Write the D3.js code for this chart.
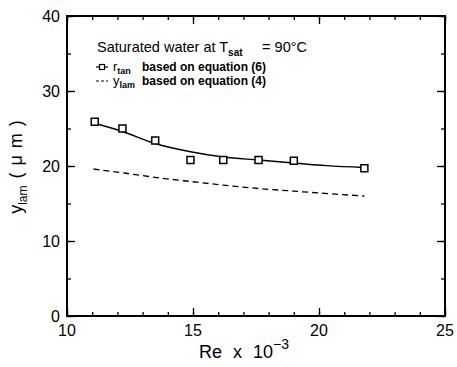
<!DOCTYPE html>
<html>
<head>
<meta charset="utf-8">
<script src="https://cdn.jsdelivr.net/npm/d3@7"></script>
<style>
  html, body { margin: 0; padding: 0; background: #fff; }
  svg { display: block; font-family: "Liberation Sans", Arial, sans-serif; }
</style>
</head>
<body>
<svg id="chart" width="457" height="367"></svg>
<script>
// Measured points: r_tan from equation (6)
const rtanRe  = [11.1, 12.2, 13.5, 14.9, 16.2, 17.6, 19.0, 21.8];
const rtanVal = [25.9, 25.0, 23.4, 20.8, 20.8, 20.8, 20.7, 19.7];

// Smooth fit through the r_tan points
const fitRe  = [11.1, 12.2, 13.5, 14.9, 16.2, 17.6, 19.0, 20.3, 21.8];
const fitVal = [25.7, 24.6, 23.0, 21.9, 21.2, 20.8, 20.4, 20.05, 19.8];

// y_lam from equation (4)
const ylamRe  = [11.05, 12.4, 13.7, 15.0, 16.2, 17.6, 19.0, 20.4, 21.8];
const ylamVal = [19.6, 19.0, 18.4, 17.9, 17.45, 17.0, 16.65, 16.3, 16.0];

const xMajorTicks = [10, 15, 20, 25];
const xMinorTicks = d3.range(10, 25.01, 1);
const yMajorTicks = [0, 10, 20, 30, 40];
const yMinorTicks = d3.range(0, 40.01, 5);

const svg = d3.select("#chart");
const plotLeft = 67, plotRight = 445, plotTop = 16, plotBottom = 316;

const x = d3.scaleLinear().domain([10, 25]).range([plotLeft, plotRight]);
const y = d3.scaleLinear().domain([0, 40]).range([plotBottom, plotTop]);

// Inward ticks on all four sides
function tickAxis(axisFn, scale, ticks, len) {
  return axisFn(scale).tickValues(ticks).tickSize(len).tickSizeOuter(0).tickFormat(() => "");
}

const sides = [
  [d3.axisTop, x, `translate(0,${plotBottom})`],
  [d3.axisBottom, x, `translate(0,${plotTop})`],
];
sides.forEach(([fn, sc, tr]) => {
  svg.append("g").attr("transform", tr).call(tickAxis(fn, sc, xMinorTicks, 4));
  svg.append("g").attr("transform", tr).call(tickAxis(fn, sc, xMajorTicks, 8));
});
const ySides = [
  [d3.axisRight, y, `translate(${plotLeft},0)`],
  [d3.axisLeft, y, `translate(${plotRight},0)`],
];
ySides.forEach(([fn, sc, tr]) => {
  svg.append("g").attr("transform", tr).call(tickAxis(fn, sc, yMinorTicks, 4));
  svg.append("g").attr("transform", tr).call(tickAxis(fn, sc, yMajorTicks, 8));
});

svg.selectAll(".domain").remove();
svg.selectAll(".tick line").attr("stroke", "#000").attr("stroke-width", 1.3);
svg.selectAll(".tick text").remove();

// frame
svg.append("rect")
  .attr("x", plotLeft).attr("y", plotTop)
  .attr("width", plotRight - plotLeft).attr("height", plotBottom - plotTop)
  .attr("fill", "none").attr("stroke", "#000").attr("stroke-width", 2);

// tick labels
svg.append("g").selectAll("text").data(yMajorTicks).join("text")
  .attr("x", plotLeft - 7).attr("y", d => y(d) + 6)
  .attr("text-anchor", "end").attr("font-size", 16)
  .text(d => d);
svg.append("g").selectAll("text").data(xMajorTicks).join("text")
  .attr("x", d => x(d)).attr("y", plotBottom + 20)
  .attr("text-anchor", "middle").attr("font-size", 16)
  .text(d => d);

// axis titles
const xt = svg.append("text")
  .attr("x", 199).attr("y", 358).attr("font-size", 18)
  .attr("word-spacing", 6);
xt.append("tspan").text("Re x 10");
xt.append("tspan").attr("dy", -9).attr("font-size", 14).text("−3");

const yt = svg.append("text")
  .attr("transform", "translate(22,167) rotate(-90)")
  .attr("text-anchor", "middle").attr("font-size", 18);
yt.append("tspan").text("y");
yt.append("tspan").attr("dy", 5).attr("font-size", 12).text("lam");
yt.append("tspan").attr("dy", -5).attr("word-spacing", 2).text(" ( μ m )");

// curves
const line = d3.line().x(d => x(d[0])).y(d => y(d[1])).curve(d3.curveMonotoneX);
svg.append("path")
  .attr("d", line(d3.zip(fitRe, fitVal)))
  .attr("fill", "none").attr("stroke", "#000").attr("stroke-width", 1.4);
svg.append("path")
  .attr("d", line(d3.zip(ylamRe, ylamVal)))
  .attr("fill", "none").attr("stroke", "#000").attr("stroke-width", 1.3)
  .attr("stroke-dasharray", "6,4");

// square markers
const sq = 7;
svg.append("g").selectAll("rect").data(d3.zip(rtanRe, rtanVal)).join("rect")
  .attr("x", d => x(d[0]) - sq / 2).attr("y", d => y(d[1]) - sq / 2)
  .attr("width", sq).attr("height", sq)
  .attr("fill", "#fff").attr("stroke", "#000").attr("stroke-width", 1.5);

// legend
const title = svg.append("text").attr("x", 97).attr("y", 52).attr("font-size", 14.5);
title.append("tspan").text("Saturated water at T");
title.append("tspan").attr("dy", 4).attr("font-size", 10).attr("font-weight", "bold").text("sat");
svg.append("text").attr("x", 307).attr("y", 52).attr("font-size", 14.5)
  .attr("text-anchor", "end").text("= 90°C");

const leg = svg.append("g");
leg.append("line").attr("x1", 96).attr("x2", 108).attr("y1", 67).attr("y2", 67)
  .attr("stroke", "#000").attr("stroke-width", 1.2);
leg.append("rect").attr("x", 99.5).attr("y", 64.5).attr("width", 5).attr("height", 5)
  .attr("fill", "#fff").attr("stroke", "#000").attr("stroke-width", 1.2);
const l1 = leg.append("text").attr("x", 113).attr("y", 71).attr("font-size", 12).attr("font-weight", "bold");
l1.append("tspan").attr("font-weight", "normal").attr("font-size", 13).text("r");
l1.append("tspan").attr("dy", 3).attr("font-size", 9).text("tan");
l1.append("tspan").attr("x", 142).attr("dy", -3).text("based on equation (6)");

leg.append("line").attr("x1", 96).attr("x2", 108).attr("y1", 81).attr("y2", 81)
  .attr("stroke", "#000").attr("stroke-width", 1.1).attr("stroke-dasharray", "3,2");
const l2 = leg.append("text").attr("x", 113).attr("y", 85).attr("font-size", 12).attr("font-weight", "bold");
l2.append("tspan").attr("font-weight", "normal").attr("font-size", 13).text("y");
l2.append("tspan").attr("dy", 3).attr("font-size", 9).text("lam");
l2.append("tspan").attr("x", 142).attr("dy", -3).text("based on equation (4)");
</script>
</body>
</html>
